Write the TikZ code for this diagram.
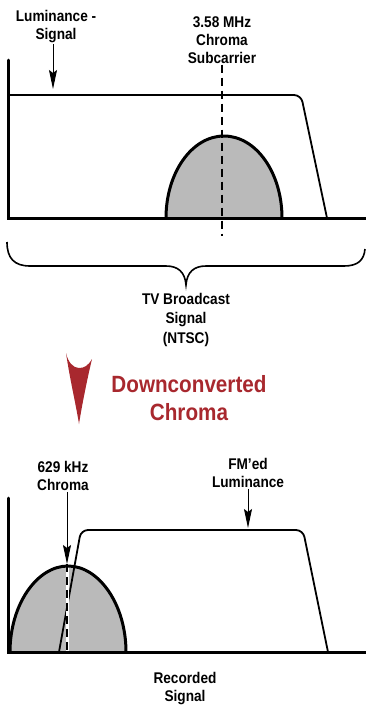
\documentclass[tikz,border=0pt]{standalone}
\usepackage{fontspec}
\setmainfont{Liberation Sans}[FakeStretch=0.88]
\usepackage{xcolor}
\usetikzlibrary{arrows.meta,positioning,calc}
\definecolor{chromared}{RGB}{168,40,46}
\definecolor{bumpgray}{RGB}{186,186,186}

\begin{document}
\begin{tikzpicture}[
    x=1pt, y=-1pt,
    >={Stealth[length=19pt,width=8pt,inset=3pt]},
    axis/.style={line width=3pt, line cap=round, line join=miter},
    lumline/.style={line width=1.8pt, rounded corners=7pt},
    bump/.style={line width=3pt, fill=bumpgray},
    lbl/.style={align=center, inner sep=1pt,
        font=\bfseries\fontsize{15.5}{18}\selectfont},
    pointer/.style={->, line width=1pt},
    carrier/.style={line width=2pt, dash pattern=on 8pt off 5pt},
]
\useasboundingbox (0,0) rectangle (366,705);

% --- top: TV broadcast spectrum
\coordinate (topO) at (8,218);
\fill[bumpgray] (166,218) .. controls (166,172.7) and (192,136) .. (224,136)
    .. controls (256,136) and (282,172.7) .. (282,218) -- cycle;
\draw[lumline] (8,95) -- (301,95) -- (327,218);
\node[lbl] (sclbl) at (222,40) {3.58 MHz\\Chroma\\Subcarrier};
\coordinate (scend) at (222,236);
\draw[carrier] (sclbl.south) -- (scend);
\draw[line width=3pt] (166,218) .. controls (166,172.7) and (192,136) .. (224,136)
    .. controls (256,136) and (282,172.7) .. (282,218);
\draw[axis] (8,60) -- (topO) -- (368,218);

\node[lbl] (lumlbl) at (56,27) {Luminance -\\Signal};
\coordinate (lumtip) at (53,89);
\draw[pointer] (lumtip |- lumlbl.south) -- (lumtip);

% brace under the top band
\coordinate (brtip) at (186,285);
\draw[line width=1.6pt] (7,242) .. controls (7,258) and (14,266) .. (30,266)
    -- (166,266) .. controls (178,266) and (185,272) .. (brtip)
    .. controls (187,272) and (194,266) .. (206,266)
    -- (344,266) .. controls (358,266) and (364,260) .. (365,249);
\node[lbl, below=7pt of brtip, font=\bfseries\fontsize{15.5}{19.5}\selectfont] (tvlbl)
    {TV Broadcast\\Signal\\(NTSC)};

% --- downconversion
\fill[chromared] (66,353) .. controls (70,380) and (76,405) .. (79,424)
    .. controls (82,405) and (87,380) .. (92,359)
    .. controls (88,366) and (84,368) .. (79,368)
    .. controls (73,368) and (68,362) .. (66,353) -- cycle;
\node[align=center, text=chromared, inner sep=0pt,
    font=\bfseries\fontsize{23.5}{28}\selectfont] (dclbl) at (189,398)
    {Downconverted\\Chroma};

% --- bottom: recorded spectrum
\coordinate (botO) at (8,652);
\fill[bumpgray] (10,652) .. controls (10,604.5) and (37,566) .. (68,566)
    .. controls (99,566) and (126,604.5) .. (126,652) -- cycle;
\draw[lumline] (59,652) -- (81,530) -- (303,530) -- (328,652);
\coordinate (chtip) at (67,564);
\coordinate (chend) at (67,652);
\draw[line width=3pt, white] (chtip) -- (chend);
\draw[carrier, line width=1.6pt] (chtip) -- (chend);
\draw[line width=3pt] (10,652) .. controls (10,604.5) and (37,566) .. (68,566)
    .. controls (99,566) and (126,604.5) .. (126,652);
\draw[axis] (8,498) -- (botO) -- (368,652);

\node[lbl] (chlbl) at (63,476) {629 kHz\\Chroma};
\draw[pointer] (chtip |- chlbl.south) -- (chtip);
\node[lbl] (fmlbl) at (248,473) {FM'ed\\Luminance};
\coordinate (fmtip) at (248,528);
\draw[pointer] (fmtip |- fmlbl.south) -- (fmtip);

\node[lbl] (reclbl) at (185,689) {Recorded\\Signal};
\end{tikzpicture}
\end{document}
